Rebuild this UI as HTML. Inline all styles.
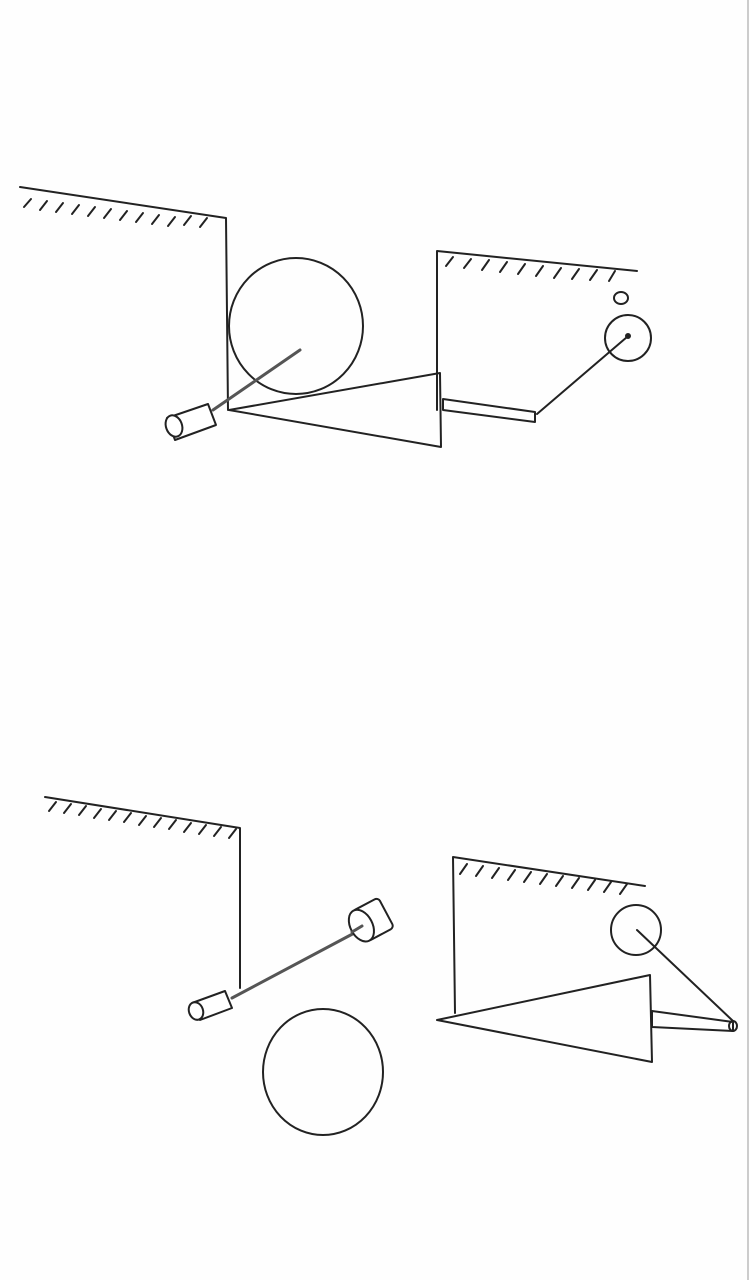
<!DOCTYPE html>
<html><head><meta charset="utf-8"><style>
html,body{margin:0;padding:0;background:#fff;}
svg{display:block;}
</style></head><body>
<svg width="750" height="1280" viewBox="0 0 750 1280" fill="none" stroke="#222" stroke-width="2" stroke-linecap="round" stroke-linejoin="round">
<rect x="0" y="0" width="750" height="1280" fill="#fefefe" stroke="none"/>
<line x1="748" y1="0" x2="748" y2="1280" stroke="#ccc" stroke-width="2"/>

<g>
  <g>
    <polyline points="20,187 226,218 228,410"/>
    <g stroke-width="2">
      <line x1="31" y1="199" x2="24" y2="207"/><line x1="47" y1="201" x2="40" y2="210"/>
      <line x1="63" y1="203" x2="56" y2="212"/><line x1="79" y1="205" x2="72" y2="214"/>
      <line x1="95" y1="207" x2="88" y2="216"/><line x1="111" y1="209" x2="104" y2="218"/>
      <line x1="127" y1="211" x2="120" y2="220"/><line x1="143" y1="213" x2="136" y2="222"/>
      <line x1="159" y1="215" x2="152" y2="224"/><line x1="175" y1="217" x2="168" y2="226"/>
      <line x1="191" y1="216" x2="184" y2="225"/><line x1="207" y1="218" x2="200" y2="227"/>
    </g>
  </g>
  <ellipse cx="296" cy="326" rx="67" ry="68"/>
  <g>
    <polygon points="208,404 216,425 175,440 167,418" fill="#fff"/>
    <ellipse cx="174" cy="426" rx="8" ry="11" transform="rotate(-20 174 426)" fill="#fff"/>
    <line x1="213" y1="410" x2="300" y2="350" stroke-width="3" stroke="#555"/>
  </g>
  <polygon points="229,410 440,373 441,447"/>
  <g>
    <polyline points="437,410 437,251 637,271"/>
    <g stroke-width="2">
      <line x1="453" y1="257" x2="446" y2="266"/><line x1="471" y1="259" x2="464" y2="268"/>
      <line x1="489" y1="260" x2="482" y2="270"/><line x1="507" y1="262" x2="500" y2="272"/>
      <line x1="525" y1="264" x2="518" y2="274"/><line x1="543" y1="266" x2="536" y2="276"/>
      <line x1="561" y1="268" x2="554" y2="278"/><line x1="579" y1="269" x2="572" y2="279"/>
      <line x1="597" y1="270" x2="590" y2="280"/><line x1="615" y1="271" x2="609" y2="281"/>
    </g>
  </g>
  <polygon points="443,399 535,412 535,422 443,410"/>
  <line x1="537" y1="414" x2="627" y2="337"/>
  <circle cx="628" cy="338" r="23"/>
  <circle cx="628" cy="336" r="2" fill="#222"/>
  <ellipse cx="621" cy="298" rx="7" ry="6"/>
</g>

<g>
  <g>
    <polyline points="45,797 240,828 240,988"/>
    <g stroke-width="2">
      <line x1="56" y1="802" x2="49" y2="811"/><line x1="71" y1="804" x2="64" y2="813"/>
      <line x1="86" y1="806" x2="79" y2="815"/><line x1="101" y1="809" x2="94" y2="818"/>
      <line x1="116" y1="811" x2="109" y2="820"/><line x1="131" y1="813" x2="124" y2="822"/>
      <line x1="146" y1="816" x2="139" y2="825"/><line x1="161" y1="818" x2="154" y2="827"/>
      <line x1="176" y1="820" x2="169" y2="829"/><line x1="191" y1="823" x2="184" y2="832"/>
      <line x1="206" y1="825" x2="199" y2="834"/><line x1="221" y1="827" x2="214" y2="836"/>
      <line x1="236" y1="829" x2="229" y2="838"/>
    </g>
  </g>
  <g>
    <line x1="232" y1="998" x2="360" y2="930" stroke-width="3" stroke="#555"/>
    <polygon points="225,991 232,1008 200,1020 192,1003" fill="#fff"/>
    <ellipse cx="196" cy="1011" rx="7" ry="9" transform="rotate(-20 196 1011)" fill="#fff"/>
    <g transform="rotate(-28 372 920)">
      <rect x="358" y="903" width="30" height="34" rx="4" fill="#fff"/>
      <ellipse cx="360" cy="920" rx="11" ry="17" fill="#fff"/>
    </g>
    <line x1="352" y1="932" x2="362" y2="926" stroke-width="3" stroke="#555"/>
  </g>
  <ellipse cx="323" cy="1072" rx="60" ry="63"/>
  <g>
    <polyline points="455,1013 453,857 645,886"/>
    <g stroke-width="2">
      <line x1="467" y1="864" x2="460" y2="874"/><line x1="483" y1="866" x2="476" y2="876"/>
      <line x1="499" y1="868" x2="492" y2="878"/><line x1="515" y1="870" x2="508" y2="880"/>
      <line x1="531" y1="872" x2="524" y2="882"/><line x1="547" y1="874" x2="540" y2="884"/>
      <line x1="563" y1="876" x2="556" y2="886"/><line x1="579" y1="878" x2="572" y2="888"/>
      <line x1="595" y1="880" x2="588" y2="890"/><line x1="611" y1="882" x2="604" y2="892"/>
      <line x1="627" y1="884" x2="620" y2="894"/>
    </g>
  </g>
  <circle cx="636" cy="930" r="25"/>
  <polygon points="437,1020 650,975 652,1062"/>
  <polygon points="652,1011 733,1022 733,1031 652,1027"/>
  <ellipse cx="733" cy="1026" rx="4" ry="5"/>
  <line x1="637" y1="930" x2="733" y2="1021"/>
</g>
</svg>
</body></html>
